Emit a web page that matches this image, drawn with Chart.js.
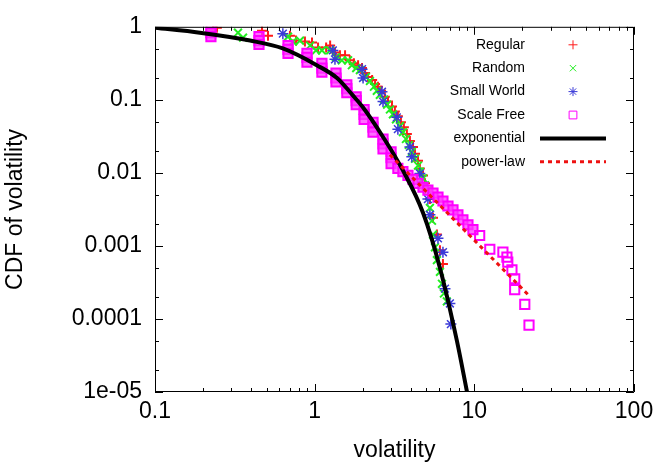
<!DOCTYPE html>
<html>
<head>
<meta charset="utf-8">
<script src="https://cdn.jsdelivr.net/npm/chart.js@4.4.1/dist/chart.umd.min.js"></script>
<style>
  html, body { margin: 0; padding: 0; background: #fff; }
</style>
</head>
<body>
<canvas id="chart" width="671" height="466"></canvas>
<script>
// CDF of volatility (log-log)
const regularX = [0.231, 0.244, 0.468, 0.51, 0.70, 0.764, 0.869, 0.962, 1.05, 1.18, 1.25, 1.34, 1.44, 1.55, 1.66, 1.76, 1.87, 1.98, 2.07, 2.16, 2.29, 2.39, 2.49, 2.60, 2.75, 2.88, 3.05, 3.18, 3.32, 3.47, 3.62, 3.78, 3.95, 4.13, 4.25, 4.44, 4.56, 4.77, 4.91, 5.12, 5.27, 5.51, 5.83, 6.09, 6.36];
const regularY = [0.911, 0.969, 0.883, 0.756, 0.756, 0.648, 0.628, 0.609, 0.521, 0.521, 0.555, 0.446, 0.407, 0.407, 0.348, 0.317, 0.298, 0.272, 0.233, 0.206, 0.187, 0.165, 0.151, 0.133, 0.110, 0.0946, 0.081, 0.0693, 0.0594, 0.0493, 0.0422, 0.034, 0.0273, 0.0227, 0.0183, 0.0147, 0.0115, 0.00923, 0.0072, 0.00561, 0.00438, 0.00243, 0.00143, 0.000873, 0.000565];

const randomX = [0.331, 0.356, 0.681, 0.731, 0.809, 0.936, 1.02, 1.11, 1.25, 1.36, 1.48, 1.62, 1.71, 1.82, 1.92, 2.09, 2.22, 2.35, 2.45, 2.56, 2.72, 2.84, 2.96, 3.09, 3.23, 3.42, 3.57, 3.73, 3.89, 4.06, 4.25, 4.44, 4.56, 4.77, 4.91, 5.12, 5.27, 5.43, 5.51, 5.67, 5.83, 6.09, 6.27, 6.45, 6.73];
const randomY = [0.830, 0.711, 0.733, 0.628, 0.648, 0.555, 0.475, 0.475, 0.475, 0.382, 0.348, 0.348, 0.298, 0.272, 0.255, 0.206, 0.181, 0.151, 0.133, 0.117, 0.101, 0.0861, 0.0738, 0.0632, 0.0541, 0.0436, 0.0361, 0.0291, 0.0241, 0.0194, 0.0156, 0.0126, 0.0104, 0.00841, 0.00677, 0.00579, 0.00331, 0.00221, 0.00143, 0.000958, 0.00064, 0.000441, 0.000303, 0.000223, 0.000174];

const smallWorldX = [0.632, 1.30, 1.34, 1.98, 2.01, 2.64, 2.68, 3.27, 3.32, 3.95, 4.06, 4.56, 5.12, 5.27, 5.92, 6.36, 6.55, 7.03, 7.13];
const smallWorldY = [0.805, 0.475, 0.359, 0.263, 0.199, 0.129, 0.0946, 0.0576, 0.0397, 0.0227, 0.0166, 0.00982, 0.00438, 0.00267, 0.00127, 0.00082, 0.00026, 0.000163, 0.0000851];

const scaleFreeX = [0.224, 0.224, 0.224, 0.448, 0.448, 0.448, 0.681, 0.681, 0.681, 0.895, 0.895, 0.895,
  1.11, 1.11, 1.11, 1.36, 1.36, 1.36, 1.59, 1.59, 1.59, 1.82, 1.82, 1.82, 2.04, 2.04, 2.04,
  2.32, 2.32, 2.32, 2.68, 2.68, 2.68, 3.01, 3.01, 3.01,
  3.32, 3.57, 3.84, 4.13, 4.44, 4.77, 5.12, 5.51, 5.92, 6.36, 6.84, 7.35, 7.89, 8.48, 9.12, 9.80,
  10.8, 12.5, 15.1, 16.0, 16.2, 17.2, 17.9, 17.9, 20.7, 22.0];
const scaleFreeY = [0.940, 0.830, 0.733, 0.733, 0.648, 0.572, 0.555, 0.490, 0.433, 0.433, 0.382, 0.327,
  0.317, 0.272, 0.240, 0.233, 0.199, 0.176, 0.160, 0.142, 0.125, 0.110, 0.0976, 0.0861, 0.0738, 0.0632, 0.0541,
  0.0493, 0.0422, 0.0361, 0.0291, 0.0249, 0.0213, 0.0194, 0.0161, 0.0134,
  0.0115, 0.0104, 0.00923, 0.00815, 0.0072, 0.00636, 0.00579, 0.00528, 0.00466, 0.00412, 0.00352, 0.00311, 0.00267, 0.00228, 0.00195, 0.00167,
  0.00139, 0.0009, 0.00082, 0.000702, 0.000601, 0.000469, 0.000355, 0.000252, 0.000158, 0.0000824];

const expFitX = [0.1, 0.191, 0.394, 0.632, 1.03, 1.38, 1.74, 2.01, 2.68, 3.57, 4.77, 6.09, 7.78, 9.0];
const expFitY = [0.969, 0.830, 0.648, 0.505, 0.298, 0.199, 0.114, 0.0785, 0.031, 0.0108, 0.00284, 0.0005, 0.00005, 0.00001];

const powerFitX = [2.96, 22.3];
const powerFitY = [0.0177, 0.000203];

const xTickValues = [0.1, 1, 10, 100];
const xTickLabels = ['0.1', '1', '10', '100'];
const yTickValues = [0.00001, 0.0001, 0.001, 0.01, 0.1, 1];
const yTickLabels = ['1e-05', '0.0001', '0.001', '0.01', '0.1', '1'];

function toPoints(xs, ys) {
  return xs.map((x, i) => ({ x: x, y: ys[i] }));
}

Chart.defaults.font.family = '"Liberation Sans", Arial, sans-serif';
Chart.defaults.color = '#000';

// gnuplot style frame with inward major/minor tics on all four sides
const frameTicks = {
  id: 'frameTicks',
  afterDatasetsDraw(chart) {
    const { ctx, chartArea: a, scales: { x, y } } = chart;
    ctx.save();
    ctx.strokeStyle = '#000';
    ctx.lineWidth = 1;
    ctx.beginPath();
    ctx.rect(a.left + 0.5, a.top + 0.5, a.right - a.left - 1, a.bottom - a.top - 1);
    ctx.stroke();

    const xTicks = [];
    for (let d = 0.1; d < 100; d *= 10) {
      for (let m = 1; m <= 9; m++) xTicks.push({ v: d * m, major: m === 1 });
    }
    xTicks.push({ v: 100, major: true });
    const yTicks = [];
    for (let d = 0.00001; d < 1; d *= 10) {
      [1, 2, 5].forEach((m) => yTicks.push({ v: d * m, major: m === 1 }));
    }
    yTicks.push({ v: 1, major: true });

    ctx.beginPath();
    xTicks.forEach((t) => {
      const px = Math.round(x.getPixelForValue(t.v)) + 0.5;
      const len = t.major ? 8 : 4;
      ctx.moveTo(px, a.bottom);
      ctx.lineTo(px, a.bottom - len);
      ctx.moveTo(px, a.top);
      ctx.lineTo(px, a.top + len);
    });
    yTicks.forEach((t) => {
      const py = Math.round(y.getPixelForValue(t.v)) + 0.5;
      const len = t.major ? 8 : 4;
      ctx.moveTo(a.left, py);
      ctx.lineTo(a.left + len, py);
      ctx.moveTo(a.right, py);
      ctx.lineTo(a.right - len, py);
    });
    ctx.stroke();

    // key, top right inside the frame
    ctx.font = '14px "Liberation Sans", Arial, sans-serif';
    ctx.textAlign = 'right';
    ctx.textBaseline = 'middle';
    const textX = a.right - 109;
    const sampleX = a.right - 61;
    chart.data.datasets.forEach((ds, i) => {
      const rowY = a.top + 18 + i * 23.4;
      ctx.fillStyle = '#000';
      ctx.fillText(ds.label, textX, rowY);
      ctx.save();
      ctx.strokeStyle = ds.borderColor;
      if (ds.showLine) {
        ctx.lineWidth = ds.borderWidth;
        ctx.setLineDash(ds.borderDash || []);
        ctx.beginPath();
        ctx.moveTo(a.right - 94, rowY);
        ctx.lineTo(a.right - 28, rowY);
        ctx.stroke();
      } else {
        ctx.fillStyle = 'rgba(0,0,0,0)';
        Chart.helpers.drawPoint(ctx, {
          pointStyle: ds.pointStyle,
          radius: ds.pointStyle === 'rect' ? 5.5 : 4.5,
          rotation: 0,
          borderWidth: 1
        }, sampleX, rowY);
      }
      ctx.restore();
    });
    ctx.restore();
  }
};

new Chart(document.getElementById('chart'), {
  type: 'scatter',
  data: {
    datasets: [
      {
        label: 'Regular',
        data: toPoints(regularX, regularY),
        pointStyle: 'cross',
        pointRadius: 5,
        pointBorderWidth: 2,
        borderColor: '#ff1a1a',
        backgroundColor: 'rgba(0,0,0,0)',
        order: 6
      },
      {
        label: 'Random',
        data: toPoints(randomX, randomY),
        pointStyle: 'crossRot',
        pointRadius: 5.5,
        pointBorderWidth: 2,
        borderColor: '#22ee22',
        backgroundColor: 'rgba(0,0,0,0)',
        order: 5
      },
      {
        label: 'Small World',
        data: toPoints(smallWorldX, smallWorldY),
        pointStyle: 'star',
        pointRadius: 5.5,
        pointBorderWidth: 1.5,
        borderColor: '#3a3ad8',
        backgroundColor: 'rgba(0,0,0,0)',
        order: 4
      },
      {
        label: 'Scale Free',
        data: toPoints(scaleFreeX, scaleFreeY),
        pointStyle: 'rect',
        pointRadius: 6.5,
        pointBorderWidth: 2,
        borderColor: '#ff00ff',
        // the dense head of the series piles up into solid blocks
        backgroundColor: (ctx) => (ctx.raw && ctx.raw.y > 0.0016 ? 'rgba(255,60,255,0.75)' : 'rgba(0,0,0,0)'),
        order: 3
      },
      {
        label: 'exponential',
        data: toPoints(expFitX, expFitY),
        showLine: true,
        pointRadius: 0,
        borderWidth: 4,
        borderColor: '#000',
        cubicInterpolationMode: 'monotone',
        order: 2
      },
      {
        label: 'power-law',
        data: toPoints(powerFitX, powerFitY),
        showLine: true,
        pointRadius: 0,
        borderWidth: 3,
        borderDash: [4, 4],
        borderColor: '#ee1111',
        order: 1
      }
    ]
  },
  options: {
    responsive: false,
    animation: false,
    layout: { padding: { left: 0, top: 21, right: 37, bottom: 0 } },
    plugins: {
      legend: { display: false },
      tooltip: { enabled: false }
    },
    scales: {
      x: {
        type: 'logarithmic',
        min: 0.1,
        max: 100,
        afterBuildTicks: (scale) => { scale.ticks = xTickValues.map((v) => ({ value: v })); },
        afterFit: (scale) => { scale.height = 74; },
        grid: { display: false, drawTicks: false },
        border: { display: false },
        ticks: {
          autoSkip: false,
          maxRotation: 0,
          padding: 6,
          font: { size: 23 },
          callback: (value) => xTickLabels[xTickValues.indexOf(value)]
        },
        title: {
          display: true,
          text: 'volatility',
          font: { size: 23 },
          padding: { top: 0, bottom: 2 }
        }
      },
      y: {
        type: 'logarithmic',
        min: 0.00001,
        max: 1,
        afterBuildTicks: (scale) => { scale.ticks = yTickValues.map((v) => ({ value: v })); },
        afterFit: (scale) => { scale.width = 155; },
        grid: { display: false, drawTicks: false },
        border: { display: false },
        ticks: {
          autoSkip: false,
          padding: 13,
          font: { size: 23 },
          callback: (value) => yTickLabels[yTickValues.indexOf(value)]
        },
        title: {
          display: true,
          text: 'CDF of volatility',
          font: { size: 23 },
          padding: { top: 2, bottom: 0 }
        }
      }
    }
  },
  plugins: [frameTicks]
});
</script>
</body>
</html>
